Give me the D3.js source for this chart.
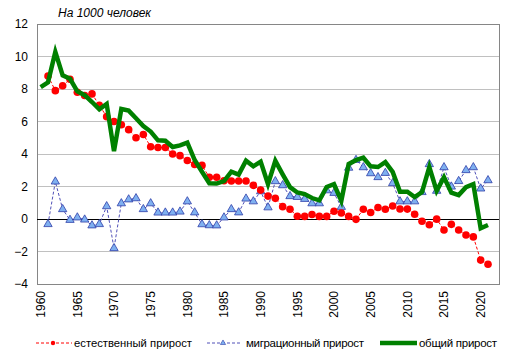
<!DOCTYPE html>
<html>
<head>
<meta charset="utf-8">
<script src="https://cdn.jsdelivr.net/npm/d3@7"></script>
<style>
  body { margin: 0; background: #fff; }
  svg { display: block; font-family: "Liberation Sans", Arial, sans-serif; }
</style>
</head>
<body>
<svg id="chart" width="512" height="358"></svg>
<script>
// ---- data ----
const years = d3.range(1960, 2023); // category slots (last slot empty)
const totalYears = d3.range(1960, 2022);
const naturalYears = d3.range(1961, 2022);
const migrationYears = d3.range(1961, 2022);

const natural = [8.8, 7.9, 8.2, 8.6, 7.8, 7.6, 7.7, 7.0, 6.3, 6.0,
  5.8, 5.5, 5.0, 5.2, 4.45, 4.4, 4.4, 4.0, 3.9, 3.6,
  3.35, 3.3, 2.57, 2.57, 2.35, 2.34, 2.34, 2.34, 2.07, 1.78,
  1.41, 1.27, 0.76, 0.6, 0.17, 0.16, 0.28, 0.16, 0.16, 0.48,
  0.37, 0.16, -0.02, 0.6, 0.4, 0.71, 0.6, 0.8, 0.62, 0.61,
  0.29, -0.14, -0.35, -0.01, -0.68, -0.33, -0.68, -0.98, -1.1, -2.53,
  -2.78];

const migration = [-0.32, 2.3, 0.6, -0.06, 0.09, -0.04, -0.4, -0.32, 0.78, -1.8,
  0.96, 1.2, 1.27, 0.6, 0.96, 0.39, 0.39, 0.39, 0.45, 1.08,
  0.4, -0.33, -0.39, -0.4, 0.09, 0.6, 0.4, 1.25, 1.08, 1.7,
  0.71, 2.32, 2.07, 1.4, 1.35, 1.23, 0.96, 0.96, 1.76, 1.6,
  0.74, 3.15, 3.63, 3.18, 2.81, 2.57, 2.83, 2.2, 1.08, 1.08,
  1.08, 1.65, 3.37, 1.73, 3.18, 1.99, 2.33, 3.0, 3.18, 1.87,
  2.38];

const total = [8.12, 8.41, 10.28, 8.84, 8.63, 7.86, 7.62, 7.2, 6.75, 7.08,
  4.17, 6.77, 6.67, 6.2, 5.72, 5.38, 4.84, 4.82, 4.43, 4.53,
  4.7, 3.63, 2.91, 2.2, 2.18, 2.33, 2.91, 2.73, 3.59, 3.24,
  3.53, 2.15, 3.58, 2.75, 1.96, 1.63, 1.53, 1.29, 1.15, 1.97,
  2.14, 1.12, 3.38, 3.62, 3.77, 3.24, 3.2, 3.5, 2.9, 1.68,
  1.68, 1.35, 1.65, 3.2, 1.73, 2.57, 1.62, 1.47, 1.96, 2.15,
  -0.57, -0.37];

const yTicks = [-4, -2, 0, 2, 4, 6, 8, 10, 12];
const xTickYears = [1960, 1965, 1970, 1975, 1980, 1985, 1990, 1995, 2000, 2005, 2010, 2015, 2020];
const seriesNames = ["естественный прирост", "миграционный прирост", "общий прирост"];
const titleText = "На 1000 человек";

// ---- layout ----
const svg = d3.select("#chart");
const L = 37, R = 499, T = 24, B = 284;

const x = d3.scaleBand().domain(years).range([L, R]);
const cx = yr => x(yr) + x.bandwidth() / 2;
const y = d3.scaleLinear().domain([-4, 12]).range([B, T]);

// gridlines
svg.append("g").selectAll("line").data(yTicks.filter(v => v !== 0 && v !== -4 && v !== 12))
  .join("line")
  .attr("x1", L).attr("x2", R)
  .attr("y1", d => y(d)).attr("y2", d => y(d))
  .attr("stroke", "#c0c0c0").attr("stroke-width", 1)
  .attr("shape-rendering", "crispEdges");

// plot border
svg.append("rect").attr("x", L).attr("y", T).attr("width", R - L).attr("height", B - T)
  .attr("fill", "none").attr("stroke", "#868686").attr("stroke-width", 1)
  .attr("shape-rendering", "crispEdges");

// zero line
svg.append("line").attr("x1", L).attr("x2", R).attr("y1", y(0)).attr("y2", y(0))
  .attr("stroke", "#000").attr("stroke-width", 1).attr("shape-rendering", "crispEdges");

// y axis labels
const yAxis = d3.axisLeft(y).tickValues(yTicks).tickSize(0).tickPadding(9);
const gy = svg.append("g").attr("transform", `translate(${L},0)`).call(yAxis);
gy.select(".domain").remove();
gy.selectAll("text").attr("font-size", 12).attr("fill", "#000")
  .attr("font-family", "Liberation Sans, Arial, sans-serif");

// x axis labels
const xAxis = d3.axisBottom(x).tickValues(xTickYears).tickSize(0).tickPadding(0);
const gx = svg.append("g").attr("transform", `translate(0,${B})`).call(xAxis);
gx.select(".domain").remove();
gx.selectAll("text")
  .attr("font-size", 12).attr("fill", "#000")
  .attr("font-family", "Liberation Sans, Arial, sans-serif")
  .attr("transform", "rotate(-90)")
  .attr("text-anchor", "end")
  .attr("x", -7).attr("y", 0).attr("dy", "0.35em");

// title
svg.append("text").attr("x", 58).attr("y", 17)
  .attr("font-size", 12).attr("font-style", "italic")
  .text(titleText);

// ---- series ----
const lineGen = d3.line().x(d => cx(d[0])).y(d => y(d[1]));

// natural (red)
const natData = naturalYears.map((yr, i) => [yr, natural[i]]);
svg.append("path").datum(natData).attr("d", lineGen)
  .attr("fill", "none").attr("stroke", "#ff0000").attr("stroke-width", 1)
  .attr("stroke-dasharray", "3,2");

// migration (blue)
const migData = migrationYears.map((yr, i) => [yr, migration[i]]);
svg.append("path").datum(migData).attr("d", lineGen)
  .attr("fill", "none").attr("stroke", "#5050b8").attr("stroke-width", 1)
  .attr("stroke-dasharray", "3,2");

const tri = d3.symbol().type(d3.symbolTriangle).size(30);

svg.append("g").selectAll("path").data(migData).join("path")
  .attr("d", tri)
  .attr("transform", d => `translate(${cx(d[0])},${y(d[1])})`)
  .attr("fill", "#7fb0f0").attr("stroke", "#2e3ea8").attr("stroke-width", 0.8);

svg.append("g").selectAll("circle").data(natData).join("circle")
  .attr("cx", d => cx(d[0])).attr("cy", d => y(d[1])).attr("r", 3.8)
  .attr("fill", "#ff0000");

// total (green)
const totData = totalYears.map((yr, i) => [yr, total[i]]);
svg.append("path").datum(totData).attr("d", lineGen)
  .attr("fill", "none").attr("stroke", "#008000").attr("stroke-width", 4.5)
  .attr("stroke-linejoin", "miter");

// ---- legend ----
const ly = 343;
const leg = svg.append("g").attr("font-size", 11.5);
// red
leg.append("line").attr("x1", 36).attr("x2", 72).attr("y1", ly).attr("y2", ly)
  .attr("stroke", "#ff0000").attr("stroke-dasharray", "3,2");
leg.append("circle").attr("cx", 53).attr("cy", ly).attr("r", 2.2).attr("fill", "#ff0000");
leg.append("text").attr("x", 74).attr("y", ly).attr("dy", "0.35em")
  .attr("textLength", 118).attr("lengthAdjust", "spacingAndGlyphs").text(seriesNames[0]);
// blue
leg.append("line").attr("x1", 207).attr("x2", 242).attr("y1", ly).attr("y2", ly)
  .attr("stroke", "#5050b8").attr("stroke-dasharray", "3,2");
leg.append("path").attr("d", d3.symbol().type(d3.symbolTriangle).size(12))
  .attr("transform", `translate(223,${ly})`)
  .attr("fill", "#7fb0f0").attr("stroke", "#2e3ea8").attr("stroke-width", 0.6);
leg.append("text").attr("x", 246).attr("y", ly).attr("dy", "0.35em")
  .attr("textLength", 118).attr("lengthAdjust", "spacing").text(seriesNames[1]);
// green
leg.append("line").attr("x1", 380).attr("x2", 417).attr("y1", ly).attr("y2", ly)
  .attr("stroke", "#008000").attr("stroke-width", 4.5);
leg.append("text").attr("x", 419).attr("y", ly).attr("dy", "0.35em")
  .attr("textLength", 78).attr("lengthAdjust", "spacing").text(seriesNames[2]);
</script>
</body>
</html>
